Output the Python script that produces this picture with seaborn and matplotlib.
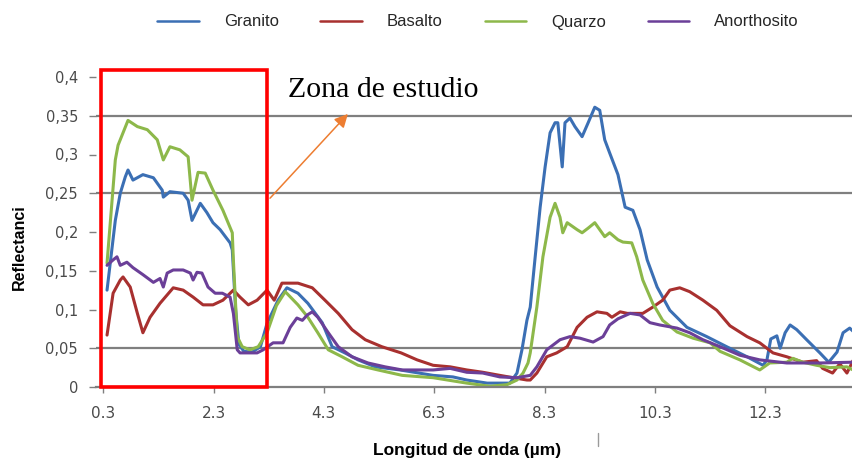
import matplotlib
matplotlib.use("Agg")
import matplotlib.pyplot as plt
import seaborn as sns
import pandas as pd
from matplotlib.patches import Rectangle
from matplotlib.lines import Line2D

sns.set_theme(style="white")
plt.rcParams["font.family"] = ["Liberation Sans", "DejaVu Sans"]

# ---------------- data ----------------
series = ["Granito", "Basalto", "Quarzo", "Anorthosito"]
colors = ["#3B6FB4", "#A8302F", "#8DB84A", "#6B3F98"]

granito_wl = [0.37, 0.52, 0.61, 0.70, 0.75, 0.84, 1.02, 1.21, 1.37, 1.39, 1.51, 1.75, 1.84, 1.91,
              2.06, 2.18, 2.29, 2.42, 2.60, 2.64, 2.70, 2.76, 2.85, 3.00, 3.15, 3.27, 3.47, 3.63,
              3.83, 4.01, 4.27, 4.45, 4.68, 4.92, 5.23, 5.68, 6.28, 6.64, 6.89, 7.26, 7.67, 7.80,
              7.89, 7.98, 8.04, 8.13, 8.22, 8.31, 8.40, 8.49, 8.54, 8.62, 8.67, 8.76, 8.85, 8.98,
              9.09, 9.21, 9.30, 9.39, 9.48, 9.63, 9.76, 9.90, 10.03, 10.16, 10.34, 10.57, 10.88,
              11.24, 11.60, 11.97, 12.26, 12.33, 12.40, 12.51, 12.57, 12.66, 12.75, 12.87, 13.05,
              13.29, 13.45, 13.60, 13.71, 13.83, 13.89]
granito_r = [0.125, 0.215, 0.250, 0.271, 0.280, 0.267, 0.274, 0.270, 0.254, 0.245, 0.252, 0.250, 0.241, 0.215,
             0.237, 0.225, 0.212, 0.203, 0.186, 0.177, 0.100, 0.055, 0.046, 0.045, 0.052, 0.082, 0.112, 0.128,
             0.121, 0.108, 0.083, 0.052, 0.044, 0.035, 0.026, 0.022, 0.015, 0.013, 0.009, 0.005, 0.005, 0.018,
             0.048, 0.086, 0.103, 0.168, 0.232, 0.284, 0.328, 0.341, 0.341, 0.284, 0.341, 0.347, 0.336, 0.323,
             0.341, 0.361, 0.357, 0.319, 0.302, 0.274, 0.232, 0.228, 0.203, 0.164, 0.129, 0.099, 0.077,
             0.065, 0.052, 0.039, 0.028, 0.035, 0.062, 0.066, 0.050, 0.070, 0.080, 0.074, 0.061,
             0.044, 0.032, 0.045, 0.070, 0.076, 0.072]

basalto_wl = [0.37, 0.48, 0.61, 0.66, 0.79, 0.92, 1.02, 1.15, 1.33, 1.57, 1.75, 1.93, 2.11, 2.29, 2.47,
              2.66, 2.78, 2.93, 3.09, 3.27, 3.40, 3.54, 3.83, 4.09, 4.32, 4.56, 4.81, 5.05, 5.35, 5.70,
              5.99, 6.28, 6.59, 6.89, 7.18, 7.49, 7.73, 7.98, 8.04, 8.16, 8.34, 8.52, 8.71, 8.89, 9.07,
              9.25, 9.43, 9.52, 9.67, 9.80, 10.08, 10.26, 10.44, 10.57, 10.75, 10.93, 11.17, 11.42,
              11.48, 11.66, 11.97, 12.20, 12.44, 12.69, 12.98, 13.23, 13.34, 13.52, 13.65, 13.78, 13.89]
basalto_r = [0.067, 0.121, 0.138, 0.142, 0.129, 0.095, 0.070, 0.090, 0.108, 0.128, 0.125, 0.116, 0.106, 0.106, 0.112,
             0.125, 0.116, 0.106, 0.112, 0.125, 0.112, 0.134, 0.134, 0.128, 0.112, 0.095, 0.074, 0.061, 0.052, 0.044,
             0.035, 0.028, 0.026, 0.022, 0.019, 0.015, 0.012, 0.009, 0.009, 0.018, 0.039, 0.044, 0.052, 0.077, 0.090,
             0.097, 0.095, 0.090, 0.097, 0.095, 0.095, 0.103, 0.112, 0.125, 0.128, 0.123, 0.112, 0.099,
             0.094, 0.079, 0.065, 0.057, 0.044, 0.039, 0.032, 0.034, 0.024, 0.018, 0.030, 0.018, 0.034]

quarzo_wl = [0.37, 0.52, 0.57, 0.75, 0.92, 1.10, 1.28, 1.39, 1.51, 1.69, 1.84, 1.91, 2.02, 2.15, 2.29,
             2.47, 2.64, 2.66, 2.69, 2.73, 2.82, 2.96, 3.11, 3.27, 3.44, 3.60, 3.83, 4.01, 4.19, 4.38,
             4.63, 4.92, 5.28, 5.72, 6.28, 6.89, 7.31, 7.62, 7.80, 7.91, 8.00, 8.04, 8.16, 8.27, 8.40,
             8.49, 8.58, 8.63, 8.71, 8.89, 8.98, 9.09, 9.21, 9.30, 9.39, 9.48, 9.63, 9.72, 9.88, 9.97,
             10.08, 10.26, 10.44, 10.70, 10.99, 11.30, 11.48, 11.84, 12.20, 12.38, 12.69, 12.80, 12.98,
             13.23, 13.47, 13.78, 13.89]
quarzo_r = [0.160, 0.293, 0.312, 0.344, 0.336, 0.332, 0.319, 0.293, 0.310, 0.306, 0.297, 0.241, 0.277, 0.276, 0.254,
            0.228, 0.199, 0.164, 0.121, 0.065, 0.052, 0.048, 0.052, 0.070, 0.105, 0.123, 0.106, 0.090, 0.070, 0.048,
            0.039, 0.028, 0.022, 0.015, 0.012, 0.005, 0.001, 0.003, 0.009, 0.018, 0.031, 0.044, 0.103, 0.168, 0.219,
            0.237, 0.219, 0.199, 0.212, 0.203, 0.199, 0.205, 0.212, 0.203, 0.194, 0.199, 0.190, 0.187, 0.186, 0.168,
            0.138, 0.108, 0.086, 0.071, 0.063, 0.057, 0.046, 0.035, 0.022, 0.031, 0.032, 0.037, 0.032,
            0.028, 0.025, 0.026, 0.022]

anort_wl = [0.37, 0.48, 0.55, 0.61, 0.73, 0.84, 1.02, 1.21, 1.33, 1.39, 1.46, 1.57, 1.75, 1.88, 1.93,
            2.00, 2.09, 2.20, 2.33, 2.46, 2.60, 2.66, 2.73, 2.78, 3.09, 3.20, 3.38, 3.56, 3.69, 3.81,
            3.91, 4.00, 4.09, 4.19, 4.38, 4.56, 4.81, 5.10, 5.41, 5.72, 6.28, 6.59, 6.89, 7.18, 7.49,
            7.80, 8.04, 8.16, 8.34, 8.58, 8.76, 8.94, 9.18, 9.36, 9.48, 9.63, 9.85, 10.03, 10.21,
            10.39, 10.70, 10.93, 11.17, 11.48, 11.84, 12.20, 12.69, 13.29, 13.89]
anort_r = [0.157, 0.164, 0.168, 0.157, 0.161, 0.154, 0.145, 0.135, 0.140, 0.129, 0.147, 0.151, 0.151, 0.147, 0.138,
           0.148, 0.147, 0.129, 0.121, 0.121, 0.116, 0.095, 0.048, 0.044, 0.044, 0.048, 0.057, 0.057, 0.077, 0.089,
           0.086, 0.093, 0.097, 0.090, 0.070, 0.052, 0.039, 0.031, 0.026, 0.022, 0.022, 0.024, 0.019, 0.018, 0.013,
           0.012, 0.015, 0.026, 0.048, 0.061, 0.065, 0.063, 0.058, 0.065, 0.080, 0.088, 0.095, 0.093, 0.083,
           0.080, 0.076, 0.070, 0.061, 0.052, 0.041, 0.035, 0.031, 0.031, 0.032]

xtick_vals = [0.3, 2.3, 4.3, 6.3, 8.3, 10.3, 12.3]
xtick_labels = ["0.3", "2.3", "4.3", "6.3", "8.3", "10.3", "12.3"]
ytick_vals = [0, 0.05, 0.1, 0.15, 0.2, 0.25, 0.3, 0.35, 0.4]
ytick_labels = ["0", "0,05", "0,1", "0,15", "0,2", "0,25", "0,3", "0,35", "0,4"]
grid_levels = [0.05, 0.25, 0.35]

# ---------------- build table ----------------
frames = []
for name, wl, r in zip(series, [granito_wl, basalto_wl, quarzo_wl, anort_wl],
                       [granito_r, basalto_r, quarzo_r, anort_r]):
    frames.append(pd.DataFrame({"wl": wl, "r": r, "serie": name}))
df = pd.concat(frames, ignore_index=True)
palette = dict(zip(series, colors))

# ---------------- figure ----------------
W, H = 853, 466
fig = plt.figure(figsize=(W / 100, H / 100), dpi=100)
ax = fig.add_axes([96 / W, 1 - 387 / H, 757 / W, 310 / H])

for lvl in grid_levels:
    ax.axhline(lvl, color="#7f7f7f", lw=1.6, zorder=0)

sns.lineplot(data=df, x="wl", y="r", hue="serie", hue_order=series, palette=palette,
             estimator=None, lw=2.2, legend=False, ax=ax)

ax.set_xlim(0.17, 13.89)
ax.set_ylim(0, 0.4)
for s in ["top", "right", "left"]:
    ax.spines[s].set_visible(False)
ax.spines["bottom"].set_color("#7f7f7f")
ax.spines["bottom"].set_linewidth(1.6)

ax.set_xticks(xtick_vals)
ax.set_xticklabels(xtick_labels)
ax.set_yticks(ytick_vals)
ax.set_yticklabels(ytick_labels)
ax.tick_params(axis="x", bottom=True, length=4, width=1, color="#7f7f7f", pad=10,
               labelsize=11, labelcolor="#4a4a4a")
ax.tick_params(axis="y", left=True, length=5, width=1, color="#7f7f7f", pad=8,
               labelsize=10.5, labelcolor="#4a4a4a")
for lbl in ax.get_xticklabels() + ax.get_yticklabels():
    lbl.set_fontfamily("DejaVu Sans")

ax.set_xlabel("Longitud de onda (µm)", fontsize=12.5, fontweight="bold", color="black")
ax.set_ylabel("Reflectanci", fontsize=11.5, fontweight="bold", color="black")
ax.xaxis.set_label_coords((467 - 96) / 757, (387 - 443) / 310)
ax.yaxis.set_label_coords((27 - 96) / 757, (387 - 247) / 310)

# study zone box
ax.add_patch(Rectangle((0.26, 0.0), 3.01, 0.409, fill=False, ec="#FF0000", lw=2.6,
                       clip_on=False, zorder=6))
ax.annotate("", xy=(4.77, 0.355), xytext=(3.29, 0.241),
            arrowprops=dict(arrowstyle="-|>", color="#ED7D31", lw=1.1, mutation_scale=20),
            annotation_clip=False, zorder=7)
ax.text(3.65, 0.374, "Zona de estudio", family=["Liberation Serif", "DejaVu Serif"],
        fontsize=21.5, ha="left", va="baseline", color="black", clip_on=False)

# legend
handles = [Line2D([0], [0], color=c, lw=1.8) for c in colors]
fig.legend(handles, series, loc="center left", bbox_to_anchor=(157 / W, 1 - 22 / H),
           ncol=4, frameon=False, handlelength=2.5, handletextpad=1.5, columnspacing=2.5,
           borderpad=0, borderaxespad=0, prop={"family": "Liberation Sans", "size": 12})

# stray small mark below the axis
fig.add_artist(Line2D([598 / W, 598 / W], [1 - 433 / H, 1 - 446 / H], color="#9a9a9a", lw=1))

fig.savefig("out.png", dpi=100, facecolor="white")
